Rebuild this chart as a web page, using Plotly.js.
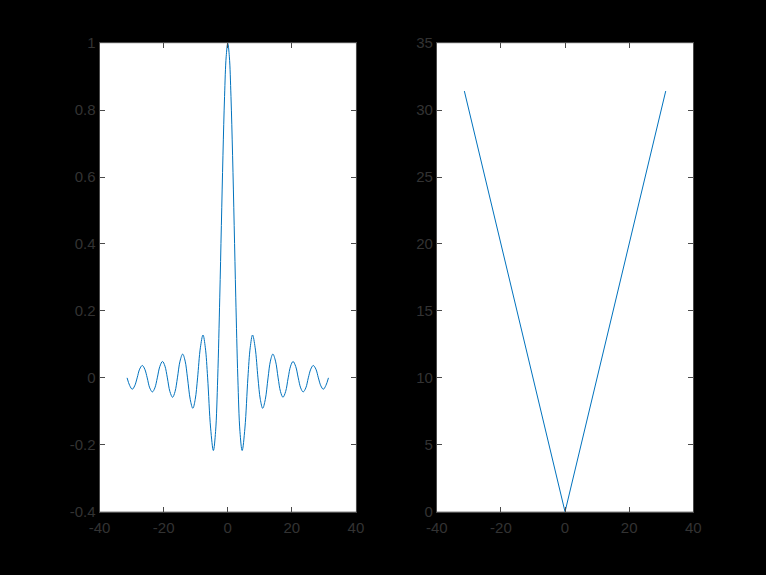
<!DOCTYPE html>
<html>
<head>
<meta charset="utf-8">
<script src="https://cdn.plot.ly/plotly-3.0.1.min.js"></script>
<style>html,body{margin:0;padding:0;background:#000;}#chart{width:766px;height:575px;}</style>
</head>
<body>
<div id="chart"></div>
<script>
// Left panel: sinc-like curve
const sincX = [-31.42,-30.6,-29.81,-29.05,-28.27,-27.5,-26.67,-25.9,-25.13,-24.35,-23.52,-22.75,-21.99,-21.2,-20.37,-19.6,-18.85,-18.05,-17.22,-16.45,-15.71,-14.9,-14.07,-13.3,-12.57,-11.7,-10.9,-10.15,-9.42,-8.55,-7.73,-7.0,-6.28,-5.35,-4.49,-3.8,-3.14,-2.5,-2.0,-1.5,-1.0,-0.5,0,0.5,1.0,1.5,2.0,2.5,3.14,3.8,4.49,5.35,6.28,7.0,7.73,8.55,9.42,10.15,10.9,11.7,12.57,13.3,14.07,14.9,15.71,16.45,17.22,18.05,18.85,19.6,20.37,21.2,21.99,22.75,23.52,24.35,25.13,25.9,26.67,27.5,28.27,29.05,29.81,30.6,31.42];
const sincY = [0,-0.023,-0.034,-0.024,0,0.026,0.037,0.026,0,-0.030,-0.042,-0.030,0,0.034,0.049,0.035,0,-0.041,-0.058,-0.041,0,0.050,0.071,0.050,0,-0.065,-0.091,-0.064,0,0.090,0.128,0.090,0,-0.150,-0.217,-0.160,0,0.239,0.455,0.665,0.841,0.959,1,0.959,0.841,0.665,0.455,0.239,0,-0.160,-0.217,-0.150,0,0.090,0.128,0.090,0,-0.064,-0.091,-0.065,0,0.050,0.071,0.050,0,-0.041,-0.058,-0.041,0,0.035,0.049,0.034,0,-0.030,-0.042,-0.030,0,0.026,0.037,0.026,0,-0.024,-0.034,-0.023,0];

// Right panel: V shape
const absX = [-31.42, 0, 31.42];
const absY = [31.42, 0, 31.42];

// Tick labels
const xTickVals = [-40, -20, 0, 20, 40];
const xTickText = ["-40", "-20", "0", "20", "40"];
const y1TickVals = [-0.4, -0.2, 0, 0.2, 0.4, 0.6, 0.8, 1];
const y1TickText = ["-0.4", "-0.2", "0", "0.2", "0.4", "0.6", "0.8", "1"];
const y2TickVals = [0, 5, 10, 15, 20, 25, 30, 35];
const y2TickText = ["0", "5", "10", "15", "20", "25", "30", "35"];

const lineColor = '#0072BD';
const axColor = '#4a4a4a';
const txtColor = '#333333';

function axis(extra) {
  return Object.assign({
    showline: true, linecolor: axColor, linewidth: 1, mirror: 'ticks',
    ticks: 'inside', ticklen: 5, tickcolor: axColor, tickwidth: 1,
    showgrid: false, zeroline: false, tickmode: 'array',
    tickfont: {family: 'Liberation Sans, Arial, sans-serif', size: 15, color: txtColor}
  }, extra);
}

const data = [
  {x: sincX, y: sincY, type: 'scatter', mode: 'lines', xaxis: 'x', yaxis: 'y',
   line: {color: lineColor, width: 1, shape: 'spline', smoothing: 1}},
  {x: absX, y: absY, type: 'scatter', mode: 'lines', xaxis: 'x2', yaxis: 'y2',
   line: {color: lineColor, width: 1}}
];

const layout = {
  width: 766, height: 575,
  paper_bgcolor: '#000000', plot_bgcolor: '#ffffff',
  showlegend: false,
  margin: {l: 0, r: 0, t: 0, b: 0},
  xaxis: axis({domain: [0.13, 0.4647], range: [-40, 40], tickvals: xTickVals, ticktext: xTickText, anchor: 'y', ticklabelstandoff: 2}),
  yaxis: axis({domain: [0.11, 0.925], range: [-0.4, 1], tickvals: y1TickVals, ticktext: y1TickText, anchor: 'x'}),
  xaxis2: axis({domain: [0.5703, 0.905], range: [-40, 40], tickvals: xTickVals, ticktext: xTickText, anchor: 'y2', ticklabelstandoff: 2}),
  yaxis2: axis({domain: [0.11, 0.925], range: [0, 35], tickvals: y2TickVals, ticktext: y2TickText, anchor: 'x2'})
};

Plotly.newPlot('chart', data, layout, {displayModeBar: false, staticPlot: true});
</script>
</body>
</html>
